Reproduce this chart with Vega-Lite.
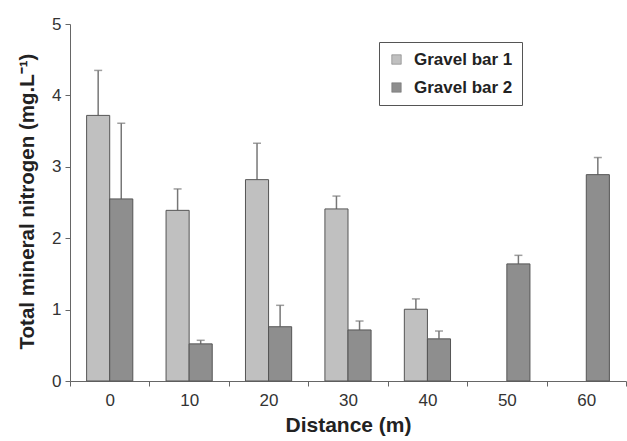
{
  "$schema": "https://vega.github.io/schema/vega-lite/v6.json",
  "autosize": {"type": "none"},
  "width": 556,
  "height": 357,
  "padding": {"left": 70, "top": 24, "right": 1, "bottom": 60},
  "background": "white",
  "config": {
    "font": "Liberation Sans",
    "view": {"stroke": null},
    "axis": {"grid": false, "domainColor": "#666", "tickColor": "#666", "labelColor": "#333", "titleColor": "#222", "labelFont": "Liberation Sans", "titleFont": "Liberation Sans"}
  },
  "data": {
    "values": [
      {"distance": "0", "group": "Gravel bar 1", "value": 3.72, "upper": 4.35},
      {"distance": "0", "group": "Gravel bar 2", "value": 2.55, "upper": 3.61},
      {"distance": "10", "group": "Gravel bar 1", "value": 2.39, "upper": 2.69},
      {"distance": "10", "group": "Gravel bar 2", "value": 0.52, "upper": 0.57},
      {"distance": "20", "group": "Gravel bar 1", "value": 2.82, "upper": 3.33},
      {"distance": "20", "group": "Gravel bar 2", "value": 0.76, "upper": 1.06},
      {"distance": "30", "group": "Gravel bar 1", "value": 2.41, "upper": 2.59},
      {"distance": "30", "group": "Gravel bar 2", "value": 0.715, "upper": 0.84},
      {"distance": "40", "group": "Gravel bar 1", "value": 1.005, "upper": 1.15},
      {"distance": "40", "group": "Gravel bar 2", "value": 0.59, "upper": 0.70},
      {"distance": "50", "group": "Gravel bar 2", "value": 1.64, "upper": 1.76},
      {"distance": "60", "group": "Gravel bar 2", "value": 2.89, "upper": 3.13}
    ]
  },
  "encoding": {
    "x": {
      "field": "distance", "type": "ordinal",
      "sort": ["0", "10", "20", "30", "40", "50", "60"],
      "scale": {"domain": ["0", "10", "20", "30", "40", "50", "60"], "paddingInner": 0, "paddingOuter": 0},
      "axis": {"title": "Distance (m)", "labelAngle": 0, "labelFontSize": 17, "labelPadding": 6, "tickBand": "extent", "tickSize": 5, "titleFontSize": 21, "titleFontWeight": "bold", "titlePadding": 6}
    },
    "xOffset": {
      "field": "group", "type": "nominal",
      "scale": {"domain": ["Gravel bar 1", "Gravel bar 2"], "paddingInner": 0, "paddingOuter": 0.72}
    }
  },
  "layer": [
    {
      "mark": {"type": "rule", "color": "#777", "strokeWidth": 1.5},
      "encoding": {
        "y": {"field": "value", "type": "quantitative"},
        "y2": {"field": "upper"}
      }
    },
    {
      "mark": {"type": "tick", "color": "#777", "thickness": 1.5, "size": 8},
      "encoding": {
        "y": {"field": "upper", "type": "quantitative"}
      }
    },
    {
      "mark": {"type": "bar", "stroke": "#555", "strokeWidth": 1},
      "encoding": {
        "y": {
          "field": "value", "type": "quantitative",
          "scale": {"domain": [0, 5], "nice": false},
          "axis": {"title": "Total mineral nitrogen (mg.L⁻¹)", "values": [0, 1, 2, 3, 4, 5], "format": "d", "labelFontSize": 17, "labelPadding": 4, "tickSize": 5, "titleFontSize": 20.5, "titleFontWeight": "bold", "titlePadding": 14, "titleY": 177}
        },
        "fill": {
          "field": "group", "type": "nominal",
          "scale": {"domain": ["Gravel bar 1", "Gravel bar 2"], "range": ["#c0c0c0", "#8e8e8e"]},
          "legend": {
            "title": null, "orient": "none", "legendX": 309, "legendY": 18,
            "strokeColor": "#555", "padding": 9, "symbolType": "square", "symbolSize": 90,
            "symbolStrokeColor": "#666", "symbolStrokeWidth": 0.5,
            "labelFontSize": 17, "labelFontWeight": "bold", "labelColor": "#222", "labelFont": "Liberation Sans",
            "rowPadding": 10, "labelOffset": 9, "fillColor": "white"
          }
        }
      }
    }
  ]
}
